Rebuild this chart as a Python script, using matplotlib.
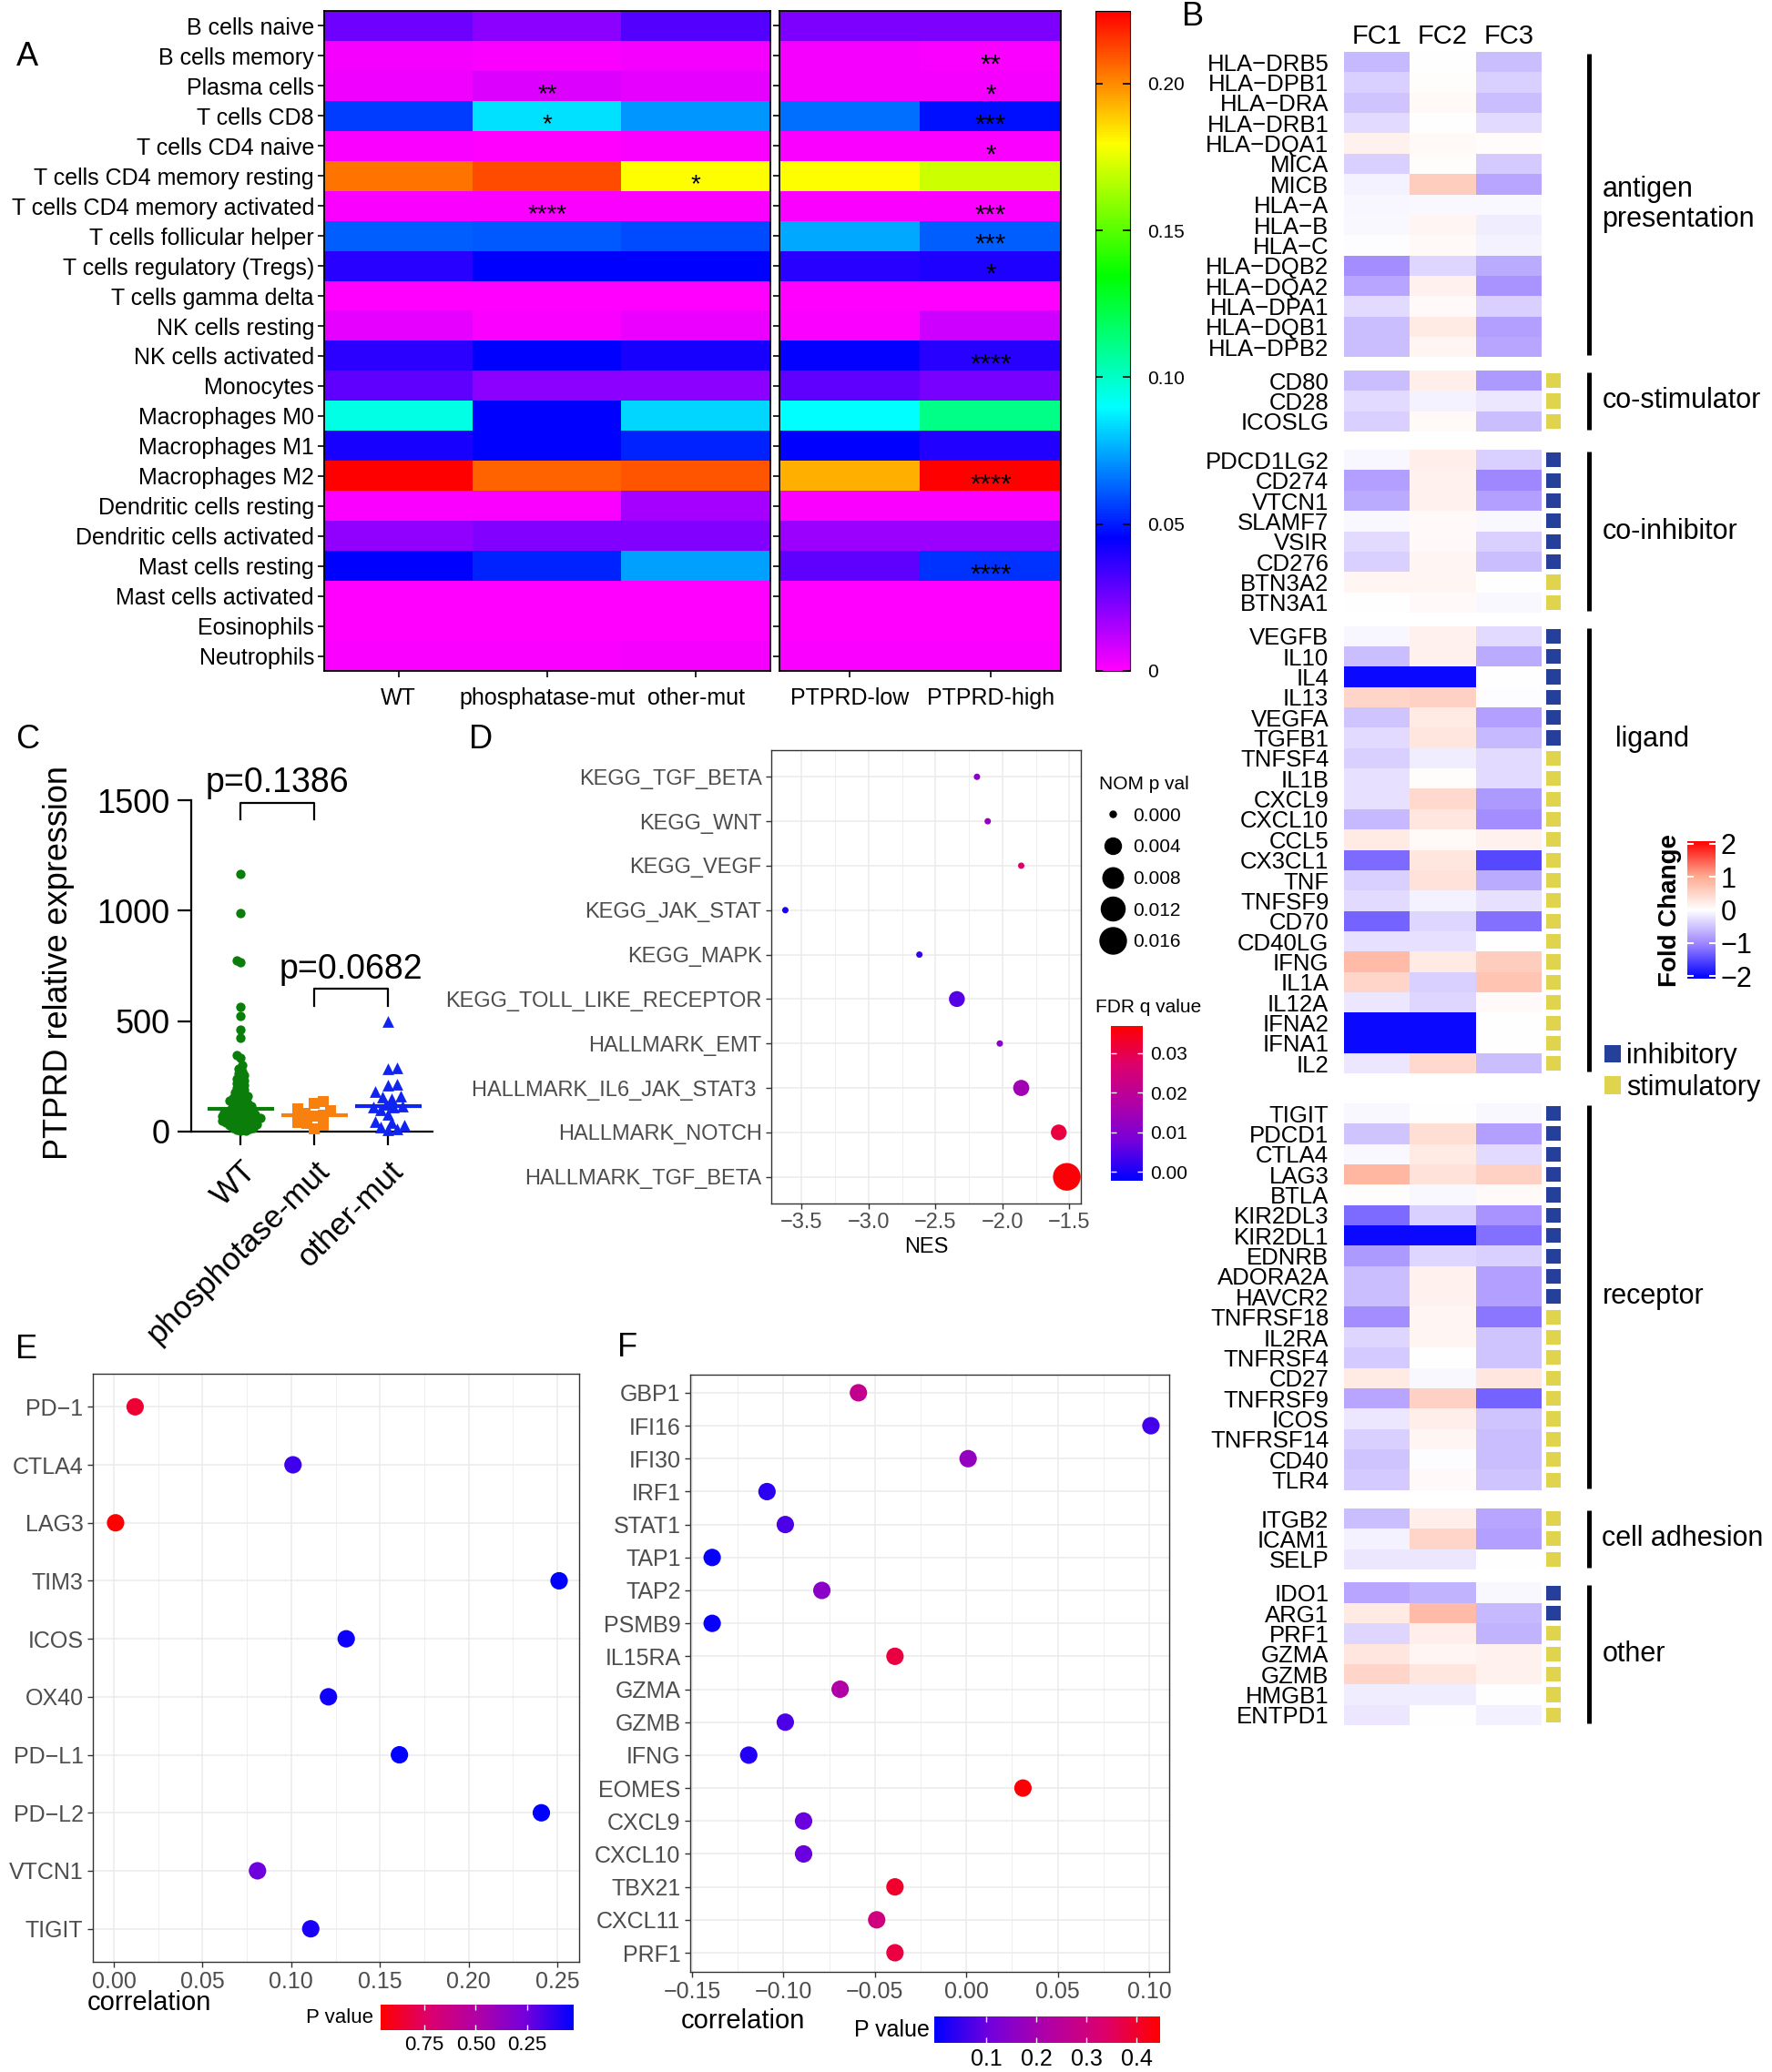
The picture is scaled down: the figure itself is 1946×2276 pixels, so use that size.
import matplotlib
matplotlib.use("Agg")
import matplotlib.pyplot as plt
import numpy as np
from matplotlib.cm import ScalarMappable
from matplotlib.colors import LinearSegmentedColormap, ListedColormap, Normalize, hsv_to_rgb
from matplotlib.lines import Line2D
from matplotlib.patches import Patch
from matplotlib.ticker import AutoMinorLocator

plt.rcParams["font.family"] = ["Liberation Sans", "DejaVu Sans"]

W, H = 1946, 2276
M = "\u2212"

# ---------------- A: immune cell fractions
cell_types = [
    "B cells naive", "B cells memory", "Plasma cells", "T cells CD8", "T cells CD4 naive",
    "T cells CD4 memory resting", "T cells CD4 memory activated", "T cells follicular helper",
    "T cells regulatory (Tregs)", "T cells gamma delta", "NK cells resting", "NK cells activated",
    "Monocytes", "Macrophages M0", "Macrophages M1", "Macrophages M2", "Dendritic cells resting",
    "Dendritic cells activated", "Mast cells resting", "Mast cells activated", "Eosinophils", "Neutrophils",
]
mut_groups = ["WT", "phosphatase-mut", "other-mut"]
expr_groups = ["PTPRD-low", "PTPRD-high"]
frac_wt = [0.0255, 0.002, 0.003, 0.056, 0.001, 0.204, 0.001, 0.062, 0.038, 0.0, 0.005,
           0.037, 0.0285, 0.094, 0.041, 0.225, 0.001, 0.0195, 0.045, 0.0, 0.0, 0.001]
frac_phos = [0.021, 0.001, 0.007, 0.085, 0.0, 0.211, 0.001, 0.061, 0.045, 0.0, 0.001,
             0.045, 0.021, 0.045, 0.045, 0.207, 0.001, 0.0225, 0.051, 0.0, 0.0, 0.001]
frac_other = [0.030, 0.002, 0.005, 0.072, 0.001, 0.180, 0.001, 0.058, 0.045, 0.0, 0.004,
              0.041, 0.021, 0.083, 0.051, 0.209, 0.0165, 0.0225, 0.0735, 0.0, 0.0, 0.002]
frac_low = [0.023, 0.002, 0.002, 0.0645, 0.001, 0.180, 0.001, 0.075, 0.038, 0.0, 0.001,
            0.044, 0.0285, 0.090, 0.045, 0.194, 0.001, 0.018, 0.0285, 0.0, 0.0, 0.001]
frac_high = [0.023, 0.001, 0.002, 0.048, 0.001, 0.171, 0.001, 0.062, 0.040, 0.0, 0.009,
             0.038, 0.024, 0.111, 0.039, 0.225, 0.001, 0.018, 0.054, 0.0, 0.0, 0.001]
stars_mut = [(2, 1, "**"), (3, 1, "*"), (5, 2, "*"), (6, 1, "****")]
stars_expr = [(1, 1, "**"), (2, 1, "*"), (3, 1, "***"), (4, 1, "*"), (6, 1, "***"),
              (7, 1, "***"), (8, 1, "*"), (11, 1, "****"), (15, 1, "****"), (18, 1, "****")]

# ---------------- B: immunomodulator fold changes
b_groups = ["antigen\npresentation", "co-stimulator", "co-inhibitor", "ligand", "receptor", "cell adhesion", "other"]
b_group_sizes = [15, 3, 8, 22, 19, 3, 7]
b_genes = [
    f"HLA{M}DRB5", f"HLA{M}DPB1", f"HLA{M}DRA", f"HLA{M}DRB1", f"HLA{M}DQA1", "MICA", "MICB",
    f"HLA{M}A", f"HLA{M}B", f"HLA{M}C", f"HLA{M}DQB2", f"HLA{M}DQA2", f"HLA{M}DPA1", f"HLA{M}DQB1", f"HLA{M}DPB2",
    "CD80", "CD28", "ICOSLG",
    "PDCD1LG2", "CD274", "VTCN1", "SLAMF7", "VSIR", "CD276", "BTN3A2", "BTN3A1",
    "VEGFB", "IL10", "IL4", "IL13", "VEGFA", "TGFB1", "TNFSF4", "IL1B", "CXCL9", "CXCL10", "CCL5",
    "CX3CL1", "TNF", "TNFSF9", "CD70", "CD40LG", "IFNG", "IL1A", "IL12A", "IFNA2", "IFNA1", "IL2",
    "TIGIT", "PDCD1", "CTLA4", "LAG3", "BTLA", "KIR2DL3", "KIR2DL1", "EDNRB", "ADORA2A", "HAVCR2",
    "TNFRSF18", "IL2RA", "TNFRSF4", "CD27", "TNFRSF9", "ICOS", "TNFRSF14", "CD40", "TLR4",
    "ITGB2", "ICAM1", "SELP",
    "IDO1", "ARG1", "PRF1", "GZMA", "GZMB", "HMGB1", "ENTPD1",
]
fc1 = [-0.6, -0.4, -0.5, -0.3, 0.15, -0.4, -0.1, -0.08, -0.05, -0.03, -0.95, -0.75, -0.3, -0.55, -0.55,
       -0.55, -0.3, -0.4,
       -0.08, -0.8, -0.7, -0.05, -0.3, -0.4, 0.12, 0.0,
       -0.08, -0.55, -2.0, 0.5, -0.5, -0.3, -0.4, -0.25, -0.25, -0.6, 0.25,
       -1.25, -0.4, -0.3, -1.3, -0.25, 0.8, 0.5, -0.2, -2.0, -2.0, -0.2,
       -0.06, -0.5, -0.06, 0.85, 0.03, -1.25, -2.0, -0.85, -0.55, -0.55,
       -0.95, -0.35, -0.45, 0.25, -0.75, -0.2, -0.4, -0.5, -0.45,
       -0.55, -0.1, -0.2,
       -0.75, 0.25, -0.35, 0.3, 0.5, -0.15, -0.2]
fc2 = [0.0, 0.02, 0.08, 0.0, 0.08, 0.02, 0.6, -0.05, 0.1, 0.08, -0.35, 0.15, 0.05, 0.25, 0.1,
       0.2, -0.1, 0.08,
       0.2, 0.15, 0.15, 0.05, 0.05, 0.1, 0.1, 0.06,
       0.15, 0.15, -2.0, 0.55, 0.25, 0.3, -0.15, 0.02, 0.45, 0.3, 0.08,
       0.3, 0.35, -0.1, -0.35, -0.25, 0.25, -0.4, -0.35, -2.0, -2.0, 0.45,
       0.0, 0.4, 0.25, 0.35, -0.06, -0.4, -2.0, -0.35, 0.15, 0.15,
       0.12, 0.12, 0.0, -0.05, 0.55, 0.2, 0.1, -0.03, 0.05,
       0.2, 0.5, -0.2,
       -0.65, 0.8, 0.2, 0.1, 0.3, -0.15, 0.0]
fc3 = [-0.55, -0.4, -0.55, -0.3, 0.04, -0.45, -0.75, -0.05, -0.15, -0.1, -0.7, -0.9, -0.4, -0.8, -0.75,
       -0.85, -0.2, -0.55,
       -0.4, -1.0, -0.8, -0.05, -0.4, -0.55, 0.0, -0.06,
       -0.3, -0.7, 0.0, -0.02, -0.8, -0.6, -0.3, -0.3, -0.85, -0.95, 0.15,
       -1.5, -0.7, -0.25, -1.2, 0.0, 0.6, 0.7, 0.06, 0.0, 0.0, -0.55,
       -0.06, -0.8, -0.3, 0.55, 0.08, -0.9, -1.2, -0.4, -0.8, -0.8,
       -1.15, -0.5, -0.5, 0.3, -1.3, -0.5, -0.55, -0.55, -0.5,
       -0.75, -0.8, 0.0,
       -0.06, -0.6, -0.65, 0.15, 0.15, 0.0, -0.12]
b_role = list("-" * 15 + "sss" + "iiiiiiss" + "iiiiii" + "s" * 16 + "i" * 10 + "s" * 9 + "sss" + "ii" + "sssss")

# ---------------- C: PTPRD expression by mutation group
c_groups = ["WT", "phosphotase-mut", "other-mut"]
wt_expr = [1165, 990, 775, 765, 565, 525, 460, 425, 345, 335,
           300, 286, 272, 263, 255, 246, 239, 231, 224, 217, 209, 203,
           197, 191, 185, 178, 173, 167, 161, 156, 151,
           148, 143, 139, 136, 131, 127, 124, 119, 116, 112, 109, 105, 101,
           98, 95, 93, 90, 88, 86, 83, 81, 79, 77, 75, 73, 71, 69, 67, 66, 63, 61, 59, 57, 55, 54, 52,
           49, 47, 45, 44, 41, 39, 37, 35, 33, 31, 29, 27, 24, 21, 18, 15, 12, 9, 6, 3]
phos_expr = [135, 128, 102, 95, 84, 75, 70, 40, 38, 28, 12]
other_expr = [500, 290, 285, 215, 212, 180, 160, 158, 150, 125, 115, 113, 110, 100, 80, 45, 40, 30, 20, 12, 8]
p_labels = ["p=0.1386", "p=0.0682"]

# ---------------- D: GSEA
gsea_sets = ["KEGG_TGF_BETA", "KEGG_WNT", "KEGG_VEGF", "KEGG_JAK_STAT", "KEGG_MAPK",
             "KEGG_TOLL_LIKE_RECEPTOR", "HALLMARK_EMT", "HALLMARK_IL6_JAK_STAT3 ",
             "HALLMARK_NOTCH", "HALLMARK_TGF_BETA"]
nes = [-2.19, -2.11, -1.86, -3.62, -2.62, -2.34, -2.02, -1.86, -1.58, -1.52]
nom_p = [0.0, 0.0, 0.0, 0.0, 0.0, 0.0036, 0.0, 0.0038, 0.0035, 0.018]
fdr_q = [0.011, 0.013, 0.027, 0.0, 0.002, 0.005, 0.011, 0.015, 0.031, 0.036]
nom_p_breaks = [0.0, 0.004, 0.008, 0.012, 0.016]

# ---------------- E: checkpoint correlations
e_genes = [f"PD{M}1", "CTLA4", "LAG3", "TIM3", "ICOS", "OX40", f"PD{M}L1", f"PD{M}L2", "VTCN1", "TIGIT"]
e_corr = [0.012, 0.101, 0.001, 0.251, 0.131, 0.121, 0.161, 0.241, 0.081, 0.111]
e_pval = [0.85, 0.15, 0.962, 0.024, 0.05, 0.06, 0.03, 0.024, 0.25, 0.08]

# ---------------- F: IFN-gamma signature correlations
f_genes = ["GBP1", "IFI16", "IFI30", "IRF1", "STAT1", "TAP1", "TAP2", "PSMB9", "IL15RA", "GZMA",
           "GZMB", "IFNG", "EOMES", "CXCL9", "CXCL10", "TBX21", "CXCL11", "PRF1"]
f_corr = [-0.059, 0.101, 0.001, -0.109, -0.099, -0.139, -0.079, -0.139, -0.039, -0.069,
          -0.099, -0.119, 0.031, -0.089, -0.089, -0.039, -0.049, -0.039]
f_pval = [0.27, 0.06, 0.17, 0.04, 0.07, 0.005, 0.15, 0.005, 0.38, 0.22,
          0.07, 0.03, 0.44, 0.1, 0.1, 0.4, 0.3, 0.38]


def px_axes(fig, x0, y0, x1, y1):
    return fig.add_axes([x0 / W, 1 - y1 / H, (x1 - x0) / W, (y1 - y0) / H])


def panel_letter(fig, x, y, letter):
    fig.text(x / W, 1 - y / H, letter, fontsize=26, ha="center", va="center")


def gg_style(ax, labelsize):
    for spine in ax.spines.values():
        spine.set_color("#333333")
        spine.set_linewidth(1.0)
    ax.xaxis.set_minor_locator(AutoMinorLocator(2))
    ax.grid(True, which="major", color="#ebebeb", lw=1.1)
    ax.grid(True, which="minor", axis="x", color="#ebebeb", lw=0.55)
    ax.set_axisbelow(True)
    ax.tick_params(colors="#333333", labelcolor="#4d4d4d", length=4, width=1, labelsize=labelsize)
    ax.tick_params(which="minor", length=0)


def swarm_offsets(values, y_scale, d_min, step=2.0):
    # simple beeswarm: offsets in pixels so markers keep at least d_min apart
    vals = np.asarray(values, dtype=float)
    placed = []
    out = np.zeros(len(vals))
    for i in np.argsort(vals):
        y = vals[i] * y_scale
        k = 0
        while True:
            cands = [0.0] if k == 0 else ([k * step, -k * step] if k % 2 else [-k * step, k * step])
            free = [x for x in cands if all((x - a) ** 2 + (y - b) ** 2 >= d_min ** 2 for a, b in placed)]
            if free:
                x = free[0]
                break
            k += 1
        placed.append((x, y))
        out[i] = x
    return out


def p_to_diam(p):
    # ggplot-like area scale, diameter in pixels
    return 4.67 * (1 + 5 * np.sqrt(np.asarray(p, dtype=float) / 0.018) + 0.5)


rainbow = ListedColormap(hsv_to_rgb(np.column_stack([np.linspace(300 / 360, 0, 256), np.ones(256), np.ones(256)])))
fc_cmap = LinearSegmentedColormap.from_list(
    "fc", [(0, "#0000ff"), (0.25, "#9c84ff"), (0.5, "#ffffff"), (0.75, "#ffa88e"), (1, "#ff0000")])
br_cmap = LinearSegmentedColormap.from_list(
    "br", [(0, "#0000ff"), (0.25, "#7400dc"), (0.5, "#b000a6"), (0.75, "#dc006c"), (1, "#ff0000")])
INHIB, STIM = "#25409a", "#e0d44e"

fig = plt.figure(figsize=(W / 100, H / 100), dpi=100, facecolor="white")

# ======== A
A_VMAX = 0.2248
ax_l = px_axes(fig, 356, 12, 846, 737)
im = ax_l.imshow(np.column_stack([frac_wt, frac_phos, frac_other]), cmap=rainbow, vmin=0, vmax=A_VMAX,
                 aspect="auto", interpolation="nearest")
ax_l.set_yticks(range(len(cell_types)), cell_types)
ax_l.set_xticks(range(len(mut_groups)), mut_groups)
ax_l.tick_params(length=5, width=1.2, labelsize=18, pad=3)
ax_l.tick_params(axis="x", pad=8)
for row, col, txt in stars_mut:
    ax_l.text(col, row + 0.3, txt, ha="center", va="center", fontsize=20)

ax_r = px_axes(fig, 856, 12, 1165, 737)
ax_r.imshow(np.column_stack([frac_low, frac_high]), cmap=rainbow, vmin=0, vmax=A_VMAX,
            aspect="auto", interpolation="nearest")
ax_r.set_yticks(range(len(cell_types)), [])
ax_r.set_xticks(range(len(expr_groups)), expr_groups)
ax_r.tick_params(length=5, width=1.2, labelsize=18)
ax_r.tick_params(axis="x", pad=8)
for row, col, txt in stars_expr:
    ax_r.text(col, row + 0.3, txt, ha="center", va="center", fontsize=21)
for ax in (ax_l, ax_r):
    for spine in ax.spines.values():
        spine.set_linewidth(1.3)

cax_a = px_axes(fig, 1203, 12, 1241, 737)
cb_a = fig.colorbar(im, cax=cax_a, ticks=[0, 0.05, 0.10, 0.15, 0.20])
cb_a.set_ticklabels(["0", "0.05", "0.10", "0.15", "0.20"])
cax_a.tick_params(direction="in", length=6, width=1.2, left=True, right=True, labelsize=15, pad=14)
panel_letter(fig, 30, 62, "A")

# ======== B
axb = px_axes(fig, 1476, 57, 1946, 1895)
gaps = [0.65, 0.9, 0.65, 1.45, 0.9, 0.65, 0.0]
label_shift = {"ligand": (0.2, -5.45)}
fc_mat = np.column_stack([fc1, fc2, fc3])
centers = []
y = 0.0
idx = 0
for name, size, gap in zip(b_groups, b_group_sizes, gaps):
    edges = y + np.arange(size + 1)
    axb.pcolormesh([0, 1, 2, 3], edges, fc_mat[idx:idx + size], cmap=fc_cmap, vmin=-2.08, vmax=2.08)
    rows = y + np.arange(size) + 0.5
    centers.extend(rows)
    for r, role in zip(rows, b_role[idx:idx + size]):
        if role != "-":
            axb.barh(r, 0.22, left=3.07, height=0.72, color=INHIB if role == "i" else STIM)
    axb.plot([3.72, 3.72], [y + 0.1, y + size - 0.1], color="black", lw=3.6, solid_capstyle="butt")
    dx, dy = label_shift.get(name, (0, 0))
    axb.text(3.92 + dx, y + size / 2 + dy, name, ha="left", va="center", fontsize=22, linespacing=1.15)
    idx += size
    y += size + gap
axb.set_xlim(0, 6.5)
axb.set_ylim(y, 0)
axb.set_yticks(centers, b_genes)
axb.set_xticks([])
axb.tick_params(length=0, labelsize=18.5, pad=12)
for spine in axb.spines.values():
    spine.set_visible(False)
for j, fc_name in enumerate(["FC1", "FC2", "FC3"]):
    axb.text(j + 0.5, -0.75, fc_name, ha="center", va="center", fontsize=21, clip_on=False)

cax_b = px_axes(fig, 1853, 924, 1884, 1075)
cb_b = fig.colorbar(ScalarMappable(norm=Normalize(-2.08, 2.08), cmap=fc_cmap), cax=cax_b, ticks=[-2, -1, 0, 1, 2])
cb_b.set_ticklabels([f"{M}2", f"{M}1", "0", "1", "2"])
cb_b.outline.set_visible(False)
cax_b.tick_params(direction="in", color="white", length=5, width=1.5, left=True, right=True, labelsize=22, pad=4)
cax_b.text(-0.61, 0.5, "Fold Change", transform=cax_b.transAxes, rotation=90, ha="center", va="center",
           fontsize=20, fontweight="bold")
fig.legend(handles=[Patch(facecolor=INHIB), Patch(facecolor=STIM)], labels=["inhibitory", "stimulatory"],
           loc="upper left", bbox_to_anchor=(1762 / W, 1 - 1145 / H), frameon=False, fontsize=22,
           handlelength=0.6, handleheight=0.6, handletextpad=0.2, labelspacing=0.15, borderpad=0, borderaxespad=0)
panel_letter(fig, 1310, 18, "B")

# ======== C
axc = px_axes(fig, 210, 879, 475, 1243)
y_scale = 364 / 1500
cat_px = 81
c_series = [(wt_expr, "o", "#0a7d0a", 4.2, 55), (phos_expr, "s", "#f7800f", 9, 75), (other_expr, "^", "#1024f0", 8.5, 85)]
for ci, (vals, marker, color, dmin, size) in enumerate(c_series):
    off = swarm_offsets(vals, y_scale, dmin) / cat_px
    axc.scatter(ci + off, vals, marker=marker, s=size, color=color, linewidths=0, clip_on=False, zorder=3)
    axc.hlines(np.median(vals), ci - 0.45, ci + 0.45, color=color, lw=3, zorder=4)
axc.set_xlim(-0.667, 2.6)
axc.set_ylim(0, 1500)
axc.set_yticks([0, 500, 1000, 1500])
axc.set_xticks(range(3), c_groups, rotation=45, ha="right", rotation_mode="anchor")
axc.tick_params(length=11, width=1.6, labelsize=26, pad=6)
axc.tick_params(axis="x", labelsize=25, pad=8)
axc.spines[["top", "right"]].set_visible(False)
axc.spines[["left", "bottom"]].set_linewidth(1.6)
for (a, b), top, low, txt in zip([(0, 1), (1, 2)], [1489, 646], [1415, 568], p_labels):
    axc.plot([a, a, b, b], [low, top, top, low], color="black", lw=1.6, clip_on=False)
    axc.text((a + b) / 2, top + 88, txt, ha="center", va="center", fontsize=27, clip_on=False)
fig.text(65 / W, 1 - 1057 / H, "PTPRD relative expression", rotation=90, ha="center", va="center", fontsize=26)
panel_letter(fig, 30, 812, "C")

# ======== D
axd = px_axes(fig, 847, 824, 1187, 1322)
ypos = np.arange(len(gsea_sets))
fdr_norm = Normalize(-0.0023, 0.0369)
axd.scatter(nes, ypos, s=(p_to_diam(nom_p) * 0.72) ** 2, c=fdr_q, cmap=br_cmap, norm=fdr_norm,
            linewidths=0, zorder=3)
axd.set_xlim(-3.725, -1.415)
axd.set_ylim(len(gsea_sets) - 0.4, -0.6)
axd.set_yticks(ypos, gsea_sets)
axd.set_xticks([-3.5, -3.0, -2.5, -2.0, -1.5], [f"{M}3.5", f"{M}3.0", f"{M}2.5", f"{M}2.0", f"{M}1.5"])
gg_style(axd, 17)
axd.set_xlabel("NES", fontsize=17, labelpad=3)
fig.legend(handles=[Line2D([], [], ls="none", marker="o", color="black", markersize=d * 0.72)
                    for d in p_to_diam(nom_p_breaks)],
           labels=[f"{p:.3f}" for p in nom_p_breaks], title="NOM p val", loc="upper left",
           bbox_to_anchor=(1207 / W, 1 - 852 / H), frameon=False, fontsize=15, title_fontsize=15,
           alignment="left", handletextpad=0.4, labelspacing=0.75, borderpad=0, borderaxespad=0, handlelength=1.4)
cax_d = px_axes(fig, 1220, 1127, 1255, 1297)
cb_d = fig.colorbar(ScalarMappable(norm=fdr_norm, cmap=br_cmap), cax=cax_d, ticks=[0, 0.01, 0.02, 0.03])
cb_d.set_ticklabels(["0.00", "0.01", "0.02", "0.03"])
cb_d.outline.set_visible(False)
cax_d.tick_params(direction="in", color="white", length=4, width=1, left=True, right=True, labelsize=15, pad=6)
fig.text(1203 / W, 1 - 1107 / H, "FDR q value", ha="left", va="center", fontsize=15)
panel_letter(fig, 528, 812, "D")

# ======== E
axe = px_axes(fig, 102, 1509, 636, 2155)
e_norm = Normalize(0.024, 0.962)
axe.scatter(e_corr, np.arange(len(e_genes)), s=190, c=e_pval, cmap=br_cmap, norm=e_norm, linewidths=0, zorder=3)
axe.set_xlim(-0.0118, 0.2623)
axe.set_ylim(len(e_genes) - 0.43, -0.57)
axe.set_yticks(range(len(e_genes)), e_genes)
axe.set_xticks([0, 0.05, 0.10, 0.15, 0.20, 0.25], ["0.00", "0.05", "0.10", "0.15", "0.20", "0.25"])
gg_style(axe, 18)
fig.text(164 / W, 1 - 2200 / H, "correlation", ha="center", va="center", fontsize=21)
cax_e = px_axes(fig, 418, 2202, 630, 2230)
cb_e = fig.colorbar(ScalarMappable(norm=e_norm, cmap=br_cmap), cax=cax_e, orientation="horizontal",
                    ticks=[0.25, 0.5, 0.75])
cb_e.set_ticklabels(["0.25", "0.50", "0.75"])
cb_e.outline.set_visible(False)
cax_e.invert_xaxis()
cax_e.tick_params(direction="in", color="white", length=4, width=1, top=True, bottom=True, labelsize=16, pad=4)
fig.text(410 / W, 1 - 2216 / H, "P value", ha="right", va="center", fontsize=16)
panel_letter(fig, 29, 1483, "E")

# ======== F
axf = px_axes(fig, 758, 1510, 1284, 2166)
f_norm = Normalize(-0.004, 0.447)
axf.scatter(f_corr, np.arange(len(f_genes)), s=190, c=f_pval, cmap=br_cmap, norm=f_norm, linewidths=0, zorder=3)
axf.set_xlim(-0.151, 0.111)
axf.set_ylim(len(f_genes) - 0.42, -0.55)
axf.set_yticks(range(len(f_genes)), f_genes)
axf.set_xticks([-0.15, -0.10, -0.05, 0, 0.05, 0.10],
               [f"{M}0.15", f"{M}0.10", f"{M}0.05", "0.00", "0.05", "0.10"])
gg_style(axf, 18)
fig.text(816 / W, 1 - 2220 / H, "correlation", ha="center", va="center", fontsize=21)
cax_f = px_axes(fig, 1026, 2215, 1274, 2244)
cb_f = fig.colorbar(ScalarMappable(norm=f_norm, cmap=br_cmap), cax=cax_f, orientation="horizontal",
                    ticks=[0.1, 0.2, 0.3, 0.4])
cb_f.set_ticklabels(["0.1", "0.2", "0.3", "0.4"])
cb_f.outline.set_visible(False)
cax_f.tick_params(direction="in", color="white", length=4, width=1, top=True, bottom=True, labelsize=18, pad=4)
fig.text(1021 / W, 1 - 2230 / H, "P value", ha="right", va="center", fontsize=18)
panel_letter(fig, 689, 1481, "F")

fig.savefig("out.png", dpi=100)
